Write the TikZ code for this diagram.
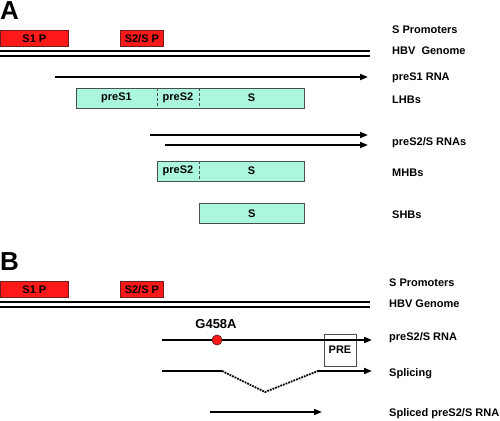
\documentclass[tikz,border=0pt]{standalone}
\usepackage{fontspec}
\setmainfont{Liberation Sans}
\usetikzlibrary{arrows.meta}
\definecolor{pred}{RGB}{255,25,25}
\definecolor{pedge}{RGB}{110,30,30}
\definecolor{teal}{RGB}{170,246,222}
\definecolor{tedge}{RGB}{70,80,80}
\tikzset{
  lbl/.style={anchor=base west,inner sep=0pt,font=\fontsize{11}{13}\selectfont\bfseries},
  inlbl/.style={inner sep=0pt,font=\fontsize{11}{13}\selectfont\bfseries},
  panel/.style={anchor=north west,inner sep=0pt,font=\fontsize{26}{28}\selectfont\bfseries},
  prom/.style={draw=pedge,fill=pred,line width=0.8pt,anchor=north west,inner sep=0pt,minimum height=16pt},
  prot/.style={draw=tedge,fill=teal,line width=0.8pt,anchor=north west,inner sep=0pt,minimum height=20pt},
  gen/.style={line width=1.4pt},
  rna/.style={line width=1.8pt,-{Triangle[length=8pt,width=6pt]}},
  rnaline/.style={line width=1.8pt},
  div/.style={densely dashed,draw=tedge,line width=0.8pt},
  spl/.style={densely dotted,line width=1.8pt},
}
\begin{document}
\begin{tikzpicture}[x=1pt,y=-1pt]
\useasboundingbox (0,0) rectangle (500,420);
% ---------- Panel A ----------
\node[panel] (A) at (0,1) {A};
\node[prom,minimum width=68pt] (s1a) at (0,30) {};
\node[inlbl] at (s1a.center) {S1 P};
\node[prom,minimum width=43pt] (s2a) at (120,30) {};
\node[inlbl] at (s2a.center) {S2/S P};
\coordinate (ga1) at (0,51); \coordinate (ga1e) at (370,51);
\coordinate (ga2) at (0,56); \coordinate (ga2e) at (370,56);
\draw[gen] (ga1) -- (ga1e);
\draw[gen] (ga2) -- (ga2e);
\coordinate (r1s) at (55,77); \coordinate (r1e) at (368,77);
\draw[rna] (r1s) -- (r1e);
\node[prot,minimum width=228pt] (lhbs) at (76,88) {};
\draw[div] (157,88) -- (157,108);
\draw[div] (199,88) -- (199,108);
\node[inlbl] at (116.5,98) {preS1};
\node[inlbl] at (178,98) {preS2};
\node[inlbl] at (251.5,98) {S};
\coordinate (r2s) at (150,135); \coordinate (r2e) at (368,135);
\coordinate (r3s) at (165,145); \coordinate (r3e) at (368,145);
\draw[rna] (r2s) -- (r2e);
\draw[rna] (r3s) -- (r3e);
\node[prot,minimum width=147pt] (mhbs) at (157,161) {};
\draw[div] (199,161) -- (199,181);
\node[inlbl] at (178,171) {preS2};
\node[inlbl] at (251.5,171) {S};
\node[prot,minimum width=105pt] (shbs) at (199,203) {};
\node[inlbl] at (shbs.center) {S};
\node[lbl] (la1) at (392,34) {S Promoters};
\node[lbl] (la2) at (392,55) {HBV~~Genome};
\node[lbl] (la3) at (392,81) {preS1 RNA};
\node[lbl] (la4) at (392,103) {LHBs};
\node[lbl] (la5) at (392,145) {preS2/S RNAs};
\node[lbl] (la6) at (392,176) {MHBs};
\node[lbl] (la7) at (392,218) {SHBs};
% ---------- Panel B ----------
\node[panel] (B) at (0,252) {B};
\node[prom,minimum width=68pt] (s1b) at (0,281) {};
\node[inlbl] at (s1b.center) {S1 P};
\node[prom,minimum width=43pt] (s2b) at (120,281) {};
\node[inlbl] at (s2b.center) {S2/S P};
\coordinate (gb1) at (0,302); \coordinate (gb1e) at (370,302);
\coordinate (gb2) at (0,307); \coordinate (gb2e) at (370,307);
\draw[gen] (gb1) -- (gb1e);
\draw[gen] (gb2) -- (gb2e);
\node[draw=tedge,line width=0.8pt,anchor=north west,minimum width=32pt,minimum height=32pt,inner sep=0pt] (pre) at (324,334) {};
\node[inlbl] at (340,350) {PRE};
\coordinate (b1s) at (162,340); \coordinate (b1e) at (372,340);
\draw[rna] (b1s) -- (b1e);
\node[circle,fill=pred,draw=pedge,line width=0.8pt,minimum size=10pt,inner sep=0pt] (mut) at (217,340) {};
\node[inlbl,font=\fontsize{13}{15}\selectfont\bfseries] (g458) at (216,324) {G458A};
\coordinate (sp1) at (162,371); \coordinate (sp2) at (222,371);
\coordinate (sp3) at (265,392); \coordinate (sp4) at (318,371);
\coordinate (sp5) at (372,371);
\draw[rnaline] (sp1) -- (sp2);
\draw[spl] (sp2) -- (sp3) -- (sp4);
\draw[rna] (sp4) -- (sp5);
\coordinate (b3s) at (210,412); \coordinate (b3e) at (322,412);
\draw[rna] (b3s) -- (b3e);
\node[lbl] (lb1) at (389,286) {S Promoters};
\node[lbl] (lb2) at (389,307) {HBV Genome};
\node[lbl] (lb3) at (389,340) {preS2/S RNA};
\node[lbl] (lb4) at (389,376) {Splicing};
\node[lbl] (lb5) at (389,416) {Spliced preS2/S RNA};
\end{tikzpicture}
\end{document}
